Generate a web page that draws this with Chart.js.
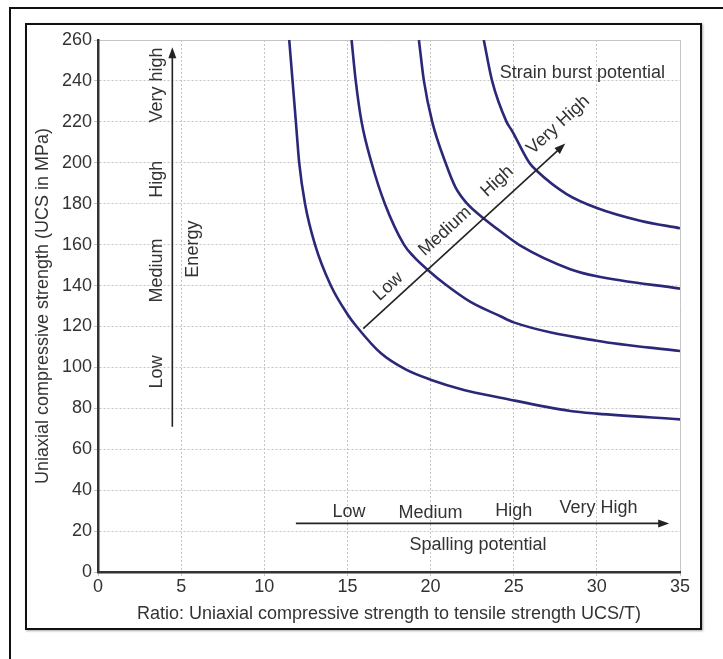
<!DOCTYPE html>
<html>
<head>
<meta charset="utf-8">
<title>Strain burst and spalling potential</title>
<script src="https://cdn.jsdelivr.net/npm/chart.js@4.4.1/dist/chart.umd.min.js"></script>
<style>
  html, body { margin: 0; padding: 0; background: #fff; }
  body { width: 723px; height: 659px; position: relative; overflow: hidden; }
  #chart { position: absolute; left: 0; top: 0; }
  .frame-outer { position: absolute; left: 9px; top: 7px; width: 800px; height: 800px;
    border-left: 2px solid #111; border-top: 2px solid #111; }
  .frame-inner { position: absolute; left: 25px; top: 23px; width: 677px; height: 607px;
    box-sizing: border-box; border: 2.5px solid #111; box-shadow: 1px 1px 2px rgba(0,0,0,.35); }
</style>
</head>
<body>
<div class="frame-outer"></div>
<div class="frame-inner"></div>
<canvas id="chart" width="723" height="659"></canvas>
<script>
// boundary curves between potential classes (UCS/T ratio vs UCS in MPa)
const b1X = [11.5, 11.7, 11.9, 12.1, 12.45, 13.05, 14.0, 15.0, 15.55, 17.0, 18.5, 20.0, 22.0, 24.2, 28.4, 30.0, 35.0];
const b1Y = [260, 240, 220, 200, 180, 160, 140, 126, 120, 107, 99, 94, 89, 85.2, 78.7, 77.4, 74.6];

const b2X = [15.25, 15.5, 15.85, 16.45, 17.25, 18.4, 19.0, 19.85, 20.9, 22.4, 24.2, 25.0, 30.0, 35.0];
const b2Y = [260, 240, 220, 200, 180, 160, 154, 147.5, 140.5, 132, 125, 122, 113, 108];

const b3X = [19.3, 19.6, 20.1, 20.9, 21.5, 22.2, 23.2, 24.2, 25.4, 28.4, 30.0, 35.0];
const b3Y = [260, 240, 220, 200, 188, 180, 172.8, 166.5, 159.5, 148, 144.5, 138.5];

const b4X = [23.2, 23.7, 24.57, 24.9, 25.94, 26.38, 28.18, 30.0, 32.6, 35.0];
const b4Y = [260, 240, 220, 215.6, 200, 196.1, 184.7, 177.9, 171.7, 168];

const classNames = ['Low', 'Medium', 'High', 'Very High'];
const energyNames = ['Low', 'Medium', 'High', 'Very high'];

const FONT = '"Liberation Sans", Arial, sans-serif';
const INK = '#333';
const CURVE = '#2b2878';

const toPoints = (xs, ys) => xs.map((x, i) => ({ x, y: ys[i] }));

// annotation layout, in data units
const energy = { x: 4.47, from: 71, to: 256.5, labelX: 3.55, labelY: [97.8, 147.3, 192, 238], titleX: 5.71, titleY: 157.8 };
const spalling = { y: 23.75, from: 11.9, to: 34.35, labelX: [15.1, 20.0, 25.0, 30.1], labelY: [29.5, 29.0, 29.8, 31.5], titleX: 22.85, titleY: 13.2 };
const burst = { x1: 15.95, y1: 118.9, x2: 28.1, y2: 209.4, labelX: [17.46, 20.87, 24.01, 27.68], labelY: [139.5, 166.5, 190.9, 218.5], titleX: 29.13, titleY: 243.7 };

function arrow(ctx, x1, y1, x2, y2) {
  const a = Math.atan2(y2 - y1, x2 - x1);
  const head = 11, half = 4;
  ctx.beginPath();
  ctx.moveTo(x1, y1);
  ctx.lineTo(x2 - Math.cos(a) * (head - 1), y2 - Math.sin(a) * (head - 1));
  ctx.stroke();
  ctx.beginPath();
  ctx.moveTo(x2, y2);
  ctx.lineTo(x2 - Math.cos(a) * head - Math.sin(a) * half, y2 - Math.sin(a) * head + Math.cos(a) * half);
  ctx.lineTo(x2 - Math.cos(a) * head + Math.sin(a) * half, y2 - Math.sin(a) * head - Math.cos(a) * half);
  ctx.closePath();
  ctx.fill();
}

function text(ctx, str, x, y, rot) {
  ctx.save();
  ctx.translate(x, y);
  ctx.rotate(rot || 0);
  ctx.fillText(str, 0, 0);
  ctx.restore();
}

const notes = {
  id: 'notes',
  afterDatasetsDraw(chart) {
    const { ctx } = chart;
    const sx = chart.scales.x, sy = chart.scales.y;
    const px = v => sx.getPixelForValue(v);
    const py = v => sy.getPixelForValue(v);
    ctx.save();
    ctx.strokeStyle = '#222';
    ctx.fillStyle = '#222';
    ctx.lineWidth = 1.6;

    arrow(ctx, px(energy.x), py(energy.from), px(energy.x), py(energy.to));
    arrow(ctx, px(spalling.from), py(spalling.y), px(spalling.to), py(spalling.y));
    arrow(ctx, px(burst.x1), py(burst.y1), px(burst.x2), py(burst.y2));

    ctx.fillStyle = INK;
    ctx.font = '18px ' + FONT;
    ctx.textAlign = 'center';
    ctx.textBaseline = 'middle';

    energyNames.forEach((s, i) => text(ctx, s, px(energy.labelX), py(energy.labelY[i]), -Math.PI / 2));
    text(ctx, 'Energy', px(energy.titleX), py(energy.titleY), -Math.PI / 2);

    classNames.forEach((s, i) => text(ctx, s, px(spalling.labelX[i]), py(spalling.labelY[i])));
    text(ctx, 'Spalling potential', px(spalling.titleX), py(spalling.titleY));

    const rot = Math.atan2(py(burst.y2) - py(burst.y1), px(burst.x2) - px(burst.x1));
    classNames.forEach((s, i) => text(ctx, s, px(burst.labelX[i]), py(burst.labelY[i]), rot));
    text(ctx, 'Strain burst potential', px(burst.titleX), py(burst.titleY));
    ctx.restore();
  }
};

const curve = (xs, ys) => ({
  data: toPoints(xs, ys),
  showLine: true,
  borderColor: CURVE,
  borderWidth: 2.6,
  pointRadius: 0,
  cubicInterpolationMode: 'monotone',
  fill: false
});

// dotted grid, but solid outer edge at the far end of each axis
const gridDash = edge => c => (c.tick && c.tick.value === edge ? [] : [2, 2]);

Chart.defaults.font.family = FONT;
Chart.defaults.color = INK;

new Chart(document.getElementById('chart'), {
  type: 'scatter',
  data: { datasets: [curve(b1X, b1Y), curve(b2X, b2Y), curve(b3X, b3Y), curve(b4X, b4Y)] },
  options: {
    responsive: false,
    animation: false,
    devicePixelRatio: 1,
    layout: { padding: { left: 0, top: 40, right: 43, bottom: 0 } },
    plugins: { legend: { display: false }, tooltip: { enabled: false } },
    scales: {
      x: {
        type: 'linear', min: 0, max: 35,
        afterFit: s => { s.height = 87; },
        ticks: { stepSize: 5, font: { size: 18 }, color: INK, padding: 0, maxRotation: 0 },
        grid: { color: '#c4c4c4', lineWidth: 1, tickLength: 4 },
        border: { color: '#333', width: 2.5, dash: gridDash(35) },
        title: { display: true, text: 'Ratio: Uniaxial compressive strength to tensile strength UCS/T)',
          font: { size: 18 }, color: INK, padding: { top: 0, bottom: 34 } }
      },
      y: {
        min: 0, max: 260,
        afterFit: s => { s.width = 98; },
        ticks: { stepSize: 20, font: { size: 18 }, color: INK, padding: 2 },
        grid: { color: '#c4c4c4', lineWidth: 1, tickLength: 4 },
        border: { color: '#333', width: 2.5, dash: gridDash(260) },
        title: { display: true, text: 'Uniaxial compressive strength (UCS in MPa)',
          font: { size: 18 }, color: INK, padding: { top: 32, bottom: 0 } }
      }
    }
  },
  plugins: [notes]
});
</script>
</body>
</html>
